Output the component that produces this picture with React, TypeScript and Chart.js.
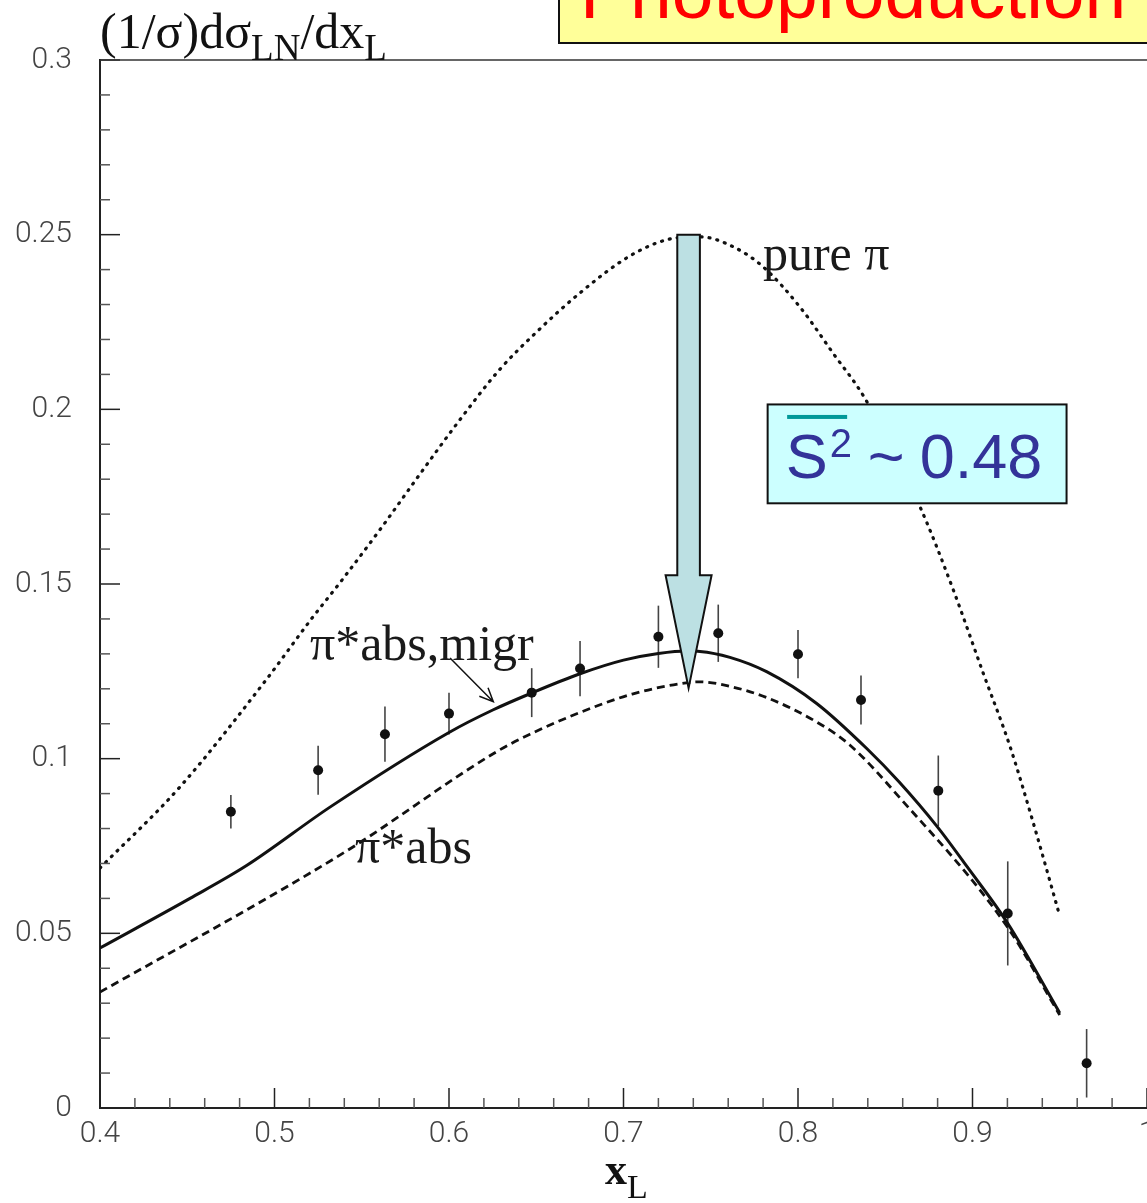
import { useEffect, useRef } from 'react';
import { Chart, registerables } from 'chart.js';

Chart.register(...registerables);

// Leading-neutron spectrum in photoproduction: measured points with errors
const xL = [0.475, 0.525, 0.5633, 0.6, 0.6474, 0.6751, 0.72, 0.7543, 0.8, 0.8361, 0.8804, 0.9202, 0.9654];
const dSigma = [0.0848, 0.0967, 0.107, 0.1129, 0.1189, 0.1258, 0.1349, 0.1359, 0.1299, 0.1168, 0.0908, 0.0557, 0.0128];
const dSigmaErr = [0.0048, 0.007, 0.0079, 0.006, 0.007, 0.0079, 0.0089, 0.0082, 0.0069, 0.007, 0.0101, 0.0149, 0.0098];

// Model: pure pion exchange
const pureX = [0.4, 0.4458, 0.4951, 0.5213, 0.5394, 0.5605, 0.5837, 0.6044, 0.6287, 0.6497, 0.6755, 0.7033, 0.726, 0.7438, 0.763, 0.78, 0.8011, 0.8202, 0.8384, 0.8699, 0.889, 0.9062, 0.9215, 0.9349, 0.9501];
const pureY = [0.0687, 0.0919, 0.1225, 0.1401, 0.1516, 0.1656, 0.1817, 0.1958, 0.2112, 0.2219, 0.2335, 0.2438, 0.2487, 0.2494, 0.2465, 0.2408, 0.2293, 0.216, 0.2031, 0.1721, 0.1483, 0.1244, 0.1035, 0.0815, 0.0548];

// Model: pion exchange with absorption and migration
const absMigrX = [0.4, 0.4516, 0.484, 0.532, 0.6, 0.6254, 0.6474, 0.6751, 0.7, 0.72, 0.737, 0.7438, 0.761, 0.782, 0.8107, 0.8394, 0.858, 0.88, 0.897, 0.92, 0.95];
const absMigrY = [0.0458, 0.06, 0.0694, 0.0862, 0.1075, 0.114, 0.1188, 0.1243, 0.1282, 0.1301, 0.1308, 0.1307, 0.129, 0.1249, 0.1158, 0.1029, 0.0933, 0.0804, 0.069, 0.053, 0.0272];

// Model: pion exchange with absorption only
const absX = [0.4, 0.4955, 0.5452, 0.6273, 0.6464, 0.675, 0.705, 0.737, 0.7438, 0.761, 0.782, 0.8107, 0.8295, 0.858, 0.92, 0.95];
const absY = [0.0332, 0.06, 0.0748, 0.102, 0.107, 0.1132, 0.1185, 0.1218, 0.122, 0.1207, 0.1175, 0.1105, 0.104, 0.089, 0.0518, 0.0266];

// Axis ticks
const xMajor = [0.4, 0.5, 0.6, 0.7, 0.8, 0.9, 1.0];
const xTickLabels = ['0.4', '0.5', '0.6', '0.7', '0.8', '0.9', '1'];
const yMajor = [0, 0.05, 0.1, 0.15, 0.2, 0.25, 0.3];
const yTickLabels = ['0', '0.05', '0.1', '0.15', '0.2', '0.25', '0.3'];

// Suppression arrow: from the pure-pion peak down to the absorbed peak
const arrowX = 0.7373;
const arrowFrom = 0.25;
const arrowNeck = 0.1525;
const arrowTo = 0.1202;
const survivalText = '0.48';

const SERIF = '"Liberation Serif", "Times New Roman", serif';
const SANS = '"Liberation Sans", Arial, sans-serif';

const majorIndex = (v: number, majors: number[]) =>
  majors.findIndex((m) => Math.abs(m - v) < 1e-6);

const tickLabel = (v: number, majors: number[], labels: string[]) => {
  const i = majorIndex(v, majors);
  return i >= 0 ? labels[i] : '';
};

type Run = { t: string; font: string; dy: number };

function drawRuns(ctx: CanvasRenderingContext2D, x: number, y: number, runs: Run[]) {
  let cx = x;
  for (const r of runs) {
    ctx.font = r.font;
    ctx.fillText(r.t, cx, y + r.dy);
    cx += ctx.measureText(r.t).width;
  }
}

export default function App() {
  const ref = useRef<HTMLCanvasElement>(null);

  useEffect(() => {
    const canvas = ref.current;
    if (!canvas) return;
    const W = 1200;
    const pts = (xs: number[], ys: number[]) => xs.map((x, i) => ({ x, y: ys[i] }));

    const overlay = {
      id: 'overlay',
      beforeDatasetsDraw(chart: any) {
        const { ctx, scales } = chart;
        const { x, y } = scales;
        ctx.save();
        // error bars
        ctx.strokeStyle = '#444';
        ctx.lineWidth = 1.6;
        xL.forEach((xv, i) => {
          const px = x.getPixelForValue(xv);
          ctx.beginPath();
          ctx.moveTo(px, y.getPixelForValue(dSigma[i] + dSigmaErr[i]));
          ctx.lineTo(px, y.getPixelForValue(dSigma[i] - dSigmaErr[i]));
          ctx.stroke();
        });
        ctx.restore();
      },
      afterDraw(chart: any) {
        const { ctx, chartArea, scales } = chart;
        const { x, y } = scales;
        ctx.save();

        // inward tick marks
        ctx.lineWidth = 1.5;
        x.ticks.forEach((t: any) => {
          const major = majorIndex(t.value, xMajor) >= 0;
          const px = x.getPixelForValue(t.value);
          ctx.strokeStyle = major ? '#222' : '#555';
          ctx.beginPath();
          ctx.moveTo(px, chartArea.bottom);
          ctx.lineTo(px, chartArea.bottom - (major ? 20 : 10));
          ctx.stroke();
        });
        y.ticks.forEach((t: any) => {
          const major = majorIndex(t.value, yMajor) >= 0;
          const py = y.getPixelForValue(t.value);
          ctx.strokeStyle = major ? '#222' : '#555';
          ctx.beginPath();
          ctx.moveTo(chartArea.left, py);
          ctx.lineTo(chartArea.left + (major ? 20 : 10), py);
          ctx.stroke();
        });

        // top frame
        ctx.strokeStyle = '#333';
        ctx.lineWidth = 1.5;
        ctx.beginPath();
        ctx.moveTo(chartArea.left, chartArea.top);
        ctx.lineTo(chartArea.right, chartArea.top);
        ctx.stroke();

        // suppression arrow
        const ax = x.getPixelForValue(arrowX);
        const aTop = y.getPixelForValue(arrowFrom);
        const aNeck = y.getPixelForValue(arrowNeck);
        const aTip = y.getPixelForValue(arrowTo);
        const sw = 11.3;
        const hw = 23;
        ctx.beginPath();
        ctx.moveTo(ax - sw, aTop);
        ctx.lineTo(ax + sw, aTop);
        ctx.lineTo(ax + sw, aNeck);
        ctx.lineTo(ax + hw, aNeck);
        ctx.lineTo(ax, aTip);
        ctx.lineTo(ax - hw, aNeck);
        ctx.lineTo(ax - sw, aNeck);
        ctx.closePath();
        ctx.fillStyle = '#bce0e3';
        ctx.fill();
        ctx.strokeStyle = '#111';
        ctx.lineWidth = 2;
        ctx.lineJoin = 'miter';
        ctx.stroke();

        // survival-probability box
        const bx0 = x.getPixelForValue(0.7826);
        const bx1 = x.getPixelForValue(0.9539);
        const by0 = y.getPixelForValue(0.2014);
        const by1 = y.getPixelForValue(0.1731);
        ctx.fillStyle = '#ccffff';
        ctx.fillRect(bx0, by0, bx1 - bx0, by1 - by0);
        ctx.strokeStyle = '#111';
        ctx.lineWidth = 2;
        ctx.strokeRect(bx0, by0, bx1 - bx0, by1 - by0);
        ctx.fillStyle = '#009999';
        ctx.fillRect(bx0 + 19.5, by0 + 10.5, 60, 4);
        ctx.fillStyle = '#333399';
        ctx.textAlign = 'left';
        ctx.textBaseline = 'alphabetic';
        ctx.font = `63px ${SANS}`;
        ctx.fillText('S', bx0 + 18, by0 + 74);
        ctx.font = `40px ${SANS}`;
        ctx.fillText('2', bx0 + 62, by0 + 53);
        ctx.font = `63px ${SANS}`;
        ctx.fillText('~', bx0 + 100, by0 + 74);
        ctx.fillText(survivalText, bx0 + 152, by0 + 74);

        // curve labels
        ctx.fillStyle = '#1a1a1a';
        ctx.font = `50px ${SERIF}`;
        ctx.fillText('pure π', x.getPixelForValue(0.7799), y.getPixelForValue(0.2398));
        ctx.fillText('π*abs,migr', x.getPixelForValue(0.5203), y.getPixelForValue(0.1282));
        ctx.fillText('π*abs', x.getPixelForValue(0.5461), y.getPixelForValue(0.0701));

        // pointer to the migr curve
        const p0x = x.getPixelForValue(0.6006);
        const p0y = y.getPixelForValue(0.1288);
        const p1x = x.getPixelForValue(0.6254);
        const p1y = y.getPixelForValue(0.1163);
        ctx.strokeStyle = '#111';
        ctx.lineWidth = 1.5;
        ctx.beginPath();
        ctx.moveTo(p0x, p0y);
        ctx.lineTo(p1x, p1y);
        const ang = Math.atan2(p1y - p0y, p1x - p0x);
        const hl = 15;
        ctx.moveTo(p1x - hl * Math.cos(ang - 0.42), p1y - hl * Math.sin(ang - 0.42));
        ctx.lineTo(p1x, p1y);
        ctx.lineTo(p1x - hl * Math.cos(ang + 0.42), p1y - hl * Math.sin(ang + 0.42));
        ctx.stroke();

        // axis titles
        ctx.fillStyle = '#111';
        drawRuns(ctx, chartArea.left, 48, [
          { t: '(1/σ)dσ', font: `50px ${SERIF}`, dy: 0 },
          { t: 'LN', font: `37px ${SERIF}`, dy: 12 },
          { t: '/dx', font: `50px ${SERIF}`, dy: 0 },
          { t: 'L', font: `37px ${SERIF}`, dy: 12 },
        ]);
        drawRuns(ctx, 605, 1184, [
          { t: 'x', font: `bold 44px ${SERIF}`, dy: 0 },
          { t: 'L', font: `34px ${SERIF}`, dy: 14 },
        ]);

        // process banner
        ctx.fillStyle = '#ffff99';
        ctx.fillRect(559, -10, 700, 53);
        ctx.strokeStyle = '#111';
        ctx.lineWidth = 2;
        ctx.strokeRect(559, -10, 700, 53);
        ctx.fillStyle = '#ff0000';
        ctx.font = `75px ${SANS}`;
        ctx.fillText('Photoproduction', 580, 18);

        ctx.restore();
      },
    };

    const chart = new Chart(canvas, {
      type: 'line',
      data: {
        datasets: [
          {
            type: 'scatter',
            label: 'data',
            data: pts(xL, dSigma),
            showLine: false,
            pointRadius: 5,
            pointBackgroundColor: '#111',
            pointBorderWidth: 0,
          },
          {
            label: 'π*abs,migr',
            data: pts(absMigrX, absMigrY),
            borderColor: '#111',
            borderWidth: 3,
            pointRadius: 0,
            cubicInterpolationMode: 'monotone',
            fill: false,
          },
          {
            label: 'π*abs',
            data: pts(absX, absY),
            borderColor: '#111',
            borderWidth: 2.8,
            borderDash: [8, 5],
            pointRadius: 0,
            cubicInterpolationMode: 'monotone',
            fill: false,
          },
          {
            label: 'pure π',
            data: pts(pureX, pureY),
            borderColor: '#111',
            borderWidth: 3.2,
            borderDash: [1, 7],
            borderCapStyle: 'round',
            pointRadius: 0,
            cubicInterpolationMode: 'monotone',
            fill: false,
          },
        ],
      } as any,
      options: {
        responsive: false,
        animation: false,
        devicePixelRatio: 1,
        events: [],
        layout: { padding: { top: 60, right: W - 1147, left: 0, bottom: 0 } },
        plugins: { legend: { display: false }, tooltip: { enabled: false } },
        scales: {
          x: {
            type: 'linear',
            position: 'bottom',
            min: 0.4,
            max: 1.0,
            afterFit: (s: any) => {
              s.height = 95;
            },
            grid: { display: false, drawTicks: false, tickLength: 0 },
            border: { display: true, color: '#222', width: 2 },
            ticks: {
              stepSize: 0.02,
              maxTicksLimit: 1000,
              autoSkip: false,
              maxRotation: 0,
              minRotation: 0,
              padding: 8,
              color: '#444',
              font: { family: 'Roboto', size: 30, weight: '300' },
              callback: (v: any) => tickLabel(Number(v), xMajor, xTickLabels),
            },
          },
          y: {
            type: 'linear',
            min: 0,
            max: 0.3,
            afterFit: (s: any) => {
              s.width = 100;
            },
            grid: { display: false, drawTicks: false, tickLength: 0 },
            border: { display: true, color: '#222', width: 2 },
            ticks: {
              stepSize: 0.01,
              maxTicksLimit: 1000,
              autoSkip: false,
              padding: 28,
              color: '#444',
              font: { family: 'Roboto', size: 30, weight: '300' },
              callback: (v: any) => tickLabel(Number(v), yMajor, yTickLabels),
            },
          },
        },
      } as any,
      plugins: [overlay],
    });

    return () => chart.destroy();
  }, []);

  return (
    <div
      style={{
        position: 'absolute',
        left: 0,
        top: 0,
        width: 1147,
        height: 1203,
        overflow: 'hidden',
        background: '#fff',
      }}
    >
      <canvas ref={ref} width={1200} height={1203} style={{ display: 'block' }} />
    </div>
  );
}
